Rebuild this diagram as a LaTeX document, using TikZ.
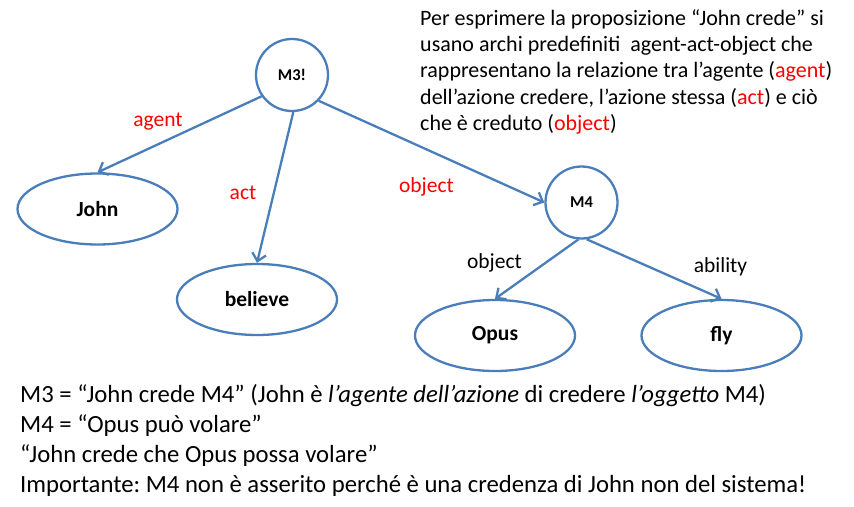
\documentclass[tikz,border=0pt]{standalone}
\usepackage{fontspec}
\setmainfont{Carlito}
\usetikzlibrary{arrows.meta,shapes.geometric}
\definecolor{lineblue}{RGB}{74,126,187}
\definecolor{labred}{RGB}{255,0,0}
\frenchspacing
\begin{document}
\begin{tikzpicture}[x=1pt,y=-1pt,
  ell/.style={ellipse, draw=lineblue, line width=2.3pt, minimum width=160pt, minimum height=71pt, inner sep=0pt,
    font=\fontsize{21.5}{25}\selectfont\bfseries},
  circ/.style={circle, draw=lineblue, line width=2.3pt, minimum size=72pt, inner sep=0pt,
    font=\fontsize{16.5}{19}\selectfont\bfseries},
  arc/.style={draw=lineblue, line width=2.3pt, -{Straight Barb[length=7.5pt,width=14pt]}},
  lab/.style={anchor=base, inner sep=0pt, font=\fontsize{21.5}{25}\selectfont},
  redlab/.style={lab, text=labred},
  toptext/.style={anchor=base west, inner sep=0pt, font=\fontsize{22}{26}\selectfont},
  bottext/.style={anchor=base west, inner sep=0pt, font=\fontsize{24.7}{30}\selectfont}]
\useasboundingbox[fill=white] (0,0) rectangle (854,506);
% nodes
\node[circ] (m3) at (292,75) {M3!};
\node[circ] (m4) at (581.5,202.5) {M4};
\node[ell] (john) at (97.5,209) {John};
\node[ell] (believe) at (257,299.5) {believe};
\node[ell] (opus) at (495,335.5) {Opus};
\node[ell] (fly) at (721.5,335.5) {fly};
% arcs
\draw[arc] (m3.215) -- (john.north);
\draw[arc] (m3.-88) -- (believe.north);
\draw[arc] (m3.-44) -- (m4.west);
\draw[arc] (m4.-95) -- (opus.north);
\draw[arc] (m4.-82) -- (fly.north);
% arc labels
\node[redlab] (lagent) at (158,126) {agent};
\node[redlab] (lact) at (243,199) {act};
\node[redlab] (lobject) at (426.5,192) {object};
\node[lab] (lobject2) at (494.5,268) {object};
\node[lab] (lability) at (720.5,272) {ability};
% top text
\node[toptext] (t1) at (420,25.5) {Per esprimere la proposizione “John crede” si};
\node[toptext] (t2) at (420,51.7) {usano archi predefiniti \ agent-act-object che};
\node[toptext] (t3) at (420,77.9) {rappresentano la relazione tra l’agente (\textcolor{labred}{agent})};
\node[toptext] (t4) at (420,104.1) {dell’azione credere, l’azione stessa (\textcolor{labred}{act}) e ciò};
\node[toptext] (t5) at (420,130.3) {che è creduto (\textcolor{labred}{object})};
% bottom text
\node[bottext] (b1) at (20,402) {M3 = “John crede M4” (John è \textit{l’agente dell’azione} di credere \textit{l’oggetto} M4)};
\node[bottext] (b2) at (20,432) {M4 = “Opus può volare”};
\node[bottext] (b3) at (20,462) {“John crede che Opus possa volare”};
\node[bottext] (b4) at (20,492) {Importante: M4 non è asserito perché è una credenza di John non del sistema!};
\end{tikzpicture}
\end{document}
